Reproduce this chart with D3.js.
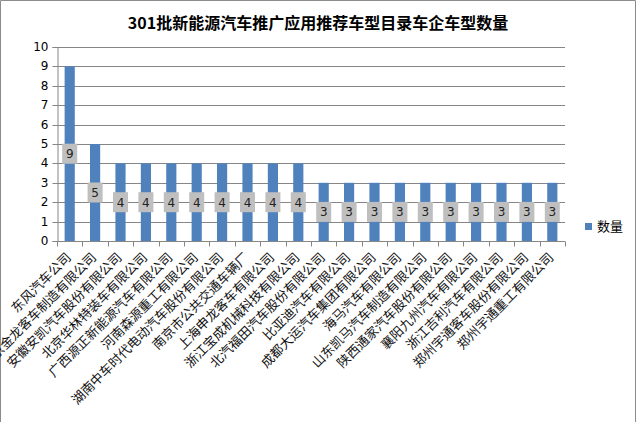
<!DOCTYPE html>
<html><head><meta charset="utf-8">
<script src="https://cdn.jsdelivr.net/npm/d3@7/dist/d3.min.js"></script>
<style>body{margin:0;background:#fff}svg{display:block}</style>
</head><body>
<svg id="c" width="636" height="422"></svg>
<script>
const categories = ["东风汽车公司","南京金龙客车制造有限公司","安徽安凯汽车股份有限公司","北京华林特装车有限公司","广西源正新能源汽车有限公司","河南森源重工有限公司","湖南中车时代电动汽车股份有限公司","南京市公共交通车辆厂","上海申龙客车有限公司","浙江宝成机械科技有限公司","北汽福田汽车股份有限公司","比亚迪汽车有限公司","成都大运汽车集团有限公司","海马汽车有限公司","山东凯马汽车制造有限公司","陕西通家汽车股份有限公司","襄阳九州汽车有限公司","浙江吉利汽车有限公司","郑州宇通客车股份有限公司","郑州宇通重工有限公司"];
const values = [9,5,4,4,4,4,4,4,4,4,3,3,3,3,3,3,3,3,3,3];
const yTicks = [0,1,2,3,4,5,6,7,8,9,10];
const seriesName = "数量";
const title = "301批新能源汽车推广应用推荐车型目录车企车型数量";

const svg = d3.select("#c");
const W = 636, H = 422;
const pLeft = 57, pRight = 565, pTop = 47, pBottom = 241;
const cjk = "'Noto Sans CJK SC', sans-serif";

// outer border
svg.append("path").attr("d", `M0.5,${H} V0.5 H${W-0.5} V${H}`).attr("fill","none").attr("stroke","#8c8c8c");

const x = d3.scaleBand().domain(categories).range([pLeft, pRight]).paddingInner(0.6).paddingOuter(0.3);
const y = d3.scaleLinear().domain([0,10]).range([pBottom, pTop]);
const xb = d3.scaleBand().domain(categories).range([pLeft, pRight]);

// title
svg.append("text").attr("x", 318).attr("y", 29).attr("text-anchor","middle")
  .attr("font-family", cjk).attr("font-weight","bold").attr("font-size", 16).attr("fill","#000").text(title);

// grid
svg.append("g").selectAll("line").data(yTicks.filter(d=>d>0)).join("line")
  .attr("x1", pLeft).attr("x2", pRight).attr("y1", d=>Math.round(y(d))+0.5).attr("y2", d=>Math.round(y(d))+0.5)
  .attr("stroke","#868686").attr("stroke-width",1);

// y axis
const yAxis = svg.append("g").attr("transform", `translate(${pLeft+0.5},0)`)
  .call(d3.axisLeft(y).tickValues(yTicks).tickSize(5).tickPadding(4).tickFormat(d3.format("d")));
yAxis.select(".domain").attr("stroke","#868686");
yAxis.selectAll(".tick line").attr("stroke","#868686");
yAxis.selectAll(".tick").attr("transform", d=>`translate(0,${Math.round(y(d))+0.5})`);
yAxis.selectAll("text").attr("font-family","'DejaVu Sans', Verdana, sans-serif").attr("font-size", 12).attr("fill","#000");

// bars
svg.append("g").selectAll("rect").data(values).join("rect")
  .attr("x", (d,i)=>x(categories[i])).attr("width", x.bandwidth())
  .attr("y", d=>y(d)).attr("height", d=>pBottom - y(d)).attr("fill","#4f81bd");

// x axis
const xAxisG = svg.append("g").attr("transform", `translate(0,${pBottom+0.5})`);
xAxisG.append("line").attr("x1", pLeft).attr("x2", pRight).attr("stroke","#868686");
xAxisG.selectAll("line.t").data(d3.range(categories.length+1)).join("line").attr("class","t")
  .attr("x1", i=>Math.round(pLeft + i*xb.bandwidth())+0.5).attr("x2", i=>Math.round(pLeft + i*xb.bandwidth())+0.5)
  .attr("y1",0).attr("y2",5).attr("stroke","#868686");

// x labels
svg.append("g").selectAll("text").data(categories).join("text")
  .attr("transform", d=>`translate(${xb(d)+xb.bandwidth()/2-1},${pBottom+14}) rotate(-45)`)
  .attr("text-anchor","end").attr("dy","0.35em")
  .attr("font-family", cjk).attr("font-size", 13).attr("fill","#111").text(d=>d);

// data labels
const lbl = svg.append("g").selectAll("g").data(values).join("g")
  .attr("transform", (d,i)=>`translate(${x(categories[i])+x.bandwidth()/2},${y(d/2)})`);
lbl.append("rect").attr("x",-7.5).attr("y",-10).attr("width",15).attr("height",20).attr("fill","#bfbfbf");
lbl.append("text").attr("text-anchor","middle").attr("dy","0.36em")
  .attr("font-family","'DejaVu Sans', Verdana, sans-serif").attr("font-size",12).attr("fill","#222").text(d=>d);

// legend
svg.append("rect").attr("x",585).attr("y",223).attr("width",7).attr("height",7).attr("fill","#4f81bd");
svg.append("text").attr("x",597).attr("y",226.5).attr("dy","0.36em").attr("font-family",cjk).attr("font-size",13).attr("fill","#000").text(seriesName);
</script>
</body></html>
